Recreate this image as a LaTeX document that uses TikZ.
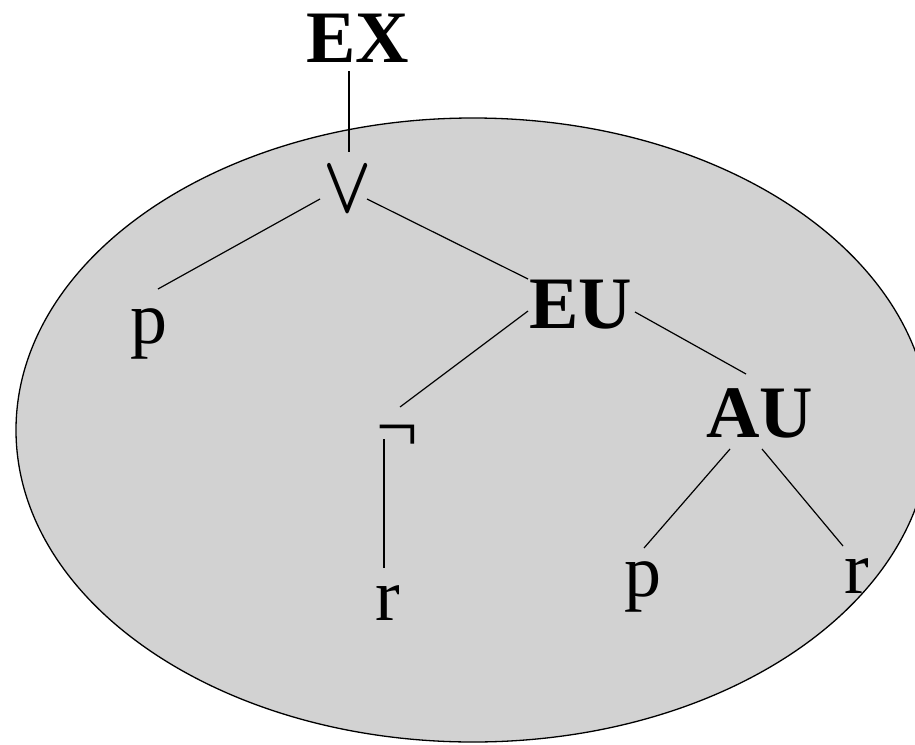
\RequirePackage{fix-cm}
\documentclass[tikz,border=0pt]{standalone}
\usepackage{fontspec}
\setmainfont{Liberation Serif}
\usetikzlibrary{calc}
\definecolor{shade}{RGB}{210,210,210}
\begin{document}
\begin{tikzpicture}[x=1pt,y=-1pt,
  lbl/.style={inner sep=0pt,anchor=base,font=\fontsize{74}{80}\selectfont},
  bl/.style={lbl,font=\fontsize{74}{80}\selectfont\bfseries},
  edge/.style={line width=1.2pt}]
\useasboundingbox (0,0) rectangle (915,744);
\draw[line width=1.3pt,fill=shade] (473,430) ellipse [x radius=457, y radius=312];
\node[bl] (EX) at (358,62) {EX};
\node[inner sep=0pt,anchor=center,font=\fontsize{74}{80}\selectfont] (or) at (348,190) {\scalebox{0.85}[1.1]{\boldmath$\vee$}};
\node[lbl] (p1) at (149,343) {p};
\node[bl] (EU) at (581,328) {EU};
\node[lbl] (neg) at (397,451) {¬};
\node[lbl] (r1) at (388,620) {r};
\node[bl] (AU) at (760,437) {AU};
\node[lbl] (p2) at (643,596) {p};
\node[lbl] (r2) at (857,593) {r};
\draw[edge] ($(EX.base)+(-9,9)$) -- ($(or.center)+(1,-38)$);
\draw[edge] ($(or.center)+(-28,9)$) -- ($(p1.base)+(9,-54)$);
\draw[edge] ($(or.center)+(19,9)$) -- ($(EU.base)+(-53,-49)$);
\draw[edge] ($(EU.base)+(-53,-17)$) -- ($(neg.base)+(3,-44)$);
\draw[edge] ($(neg.base)+(-13,-12)$) -- ($(r1.base)+(-4,-52)$);
\draw[edge] ($(EU.base)+(54,-16)$) -- ($(AU.base)+(-14,-63)$);
\draw[edge] ($(AU.base)+(-30,12)$) -- ($(p2.base)+(1,-48)$);
\draw[edge] ($(AU.base)+(2,12)$) -- ($(r2.base)+(-14,-47)$);
\end{tikzpicture}
\end{document}
